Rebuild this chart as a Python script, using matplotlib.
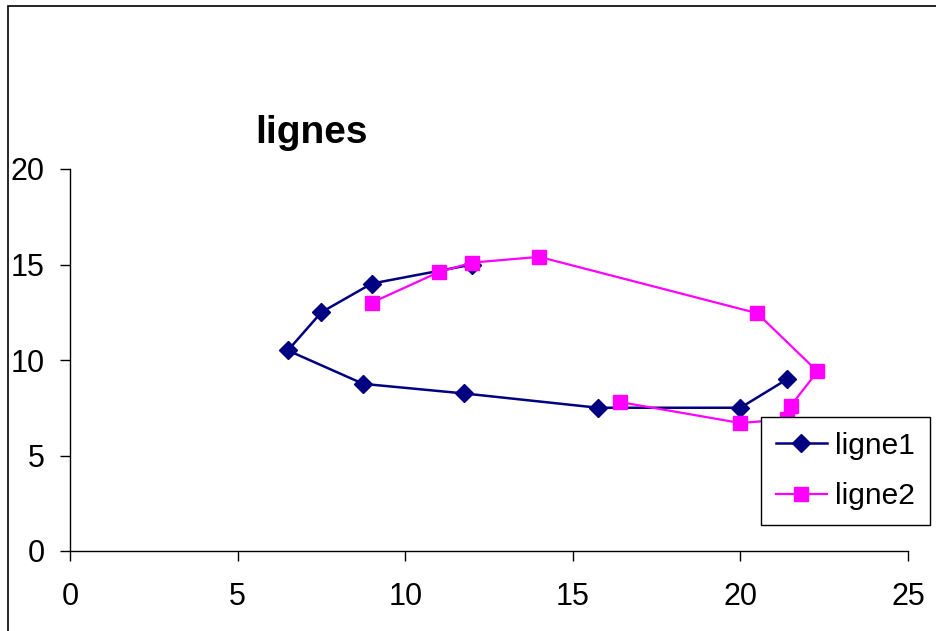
import matplotlib
matplotlib.use("Agg")
import matplotlib.pyplot as plt
from matplotlib.patches import Rectangle

plt.rcParams['font.family'] = ['Liberation Sans', 'DejaVu Sans']

# data
ligne1_x = [12, 9, 7.5, 6.5, 8.75, 11.75, 15.75, 20, 21.4]
ligne1_y = [15, 14, 12.5, 10.5, 8.75, 8.25, 7.5, 7.5, 9]
ligne2_x = [9, 11, 12, 14, 20.5, 22.3, 21.5, 21.4, 20, 16.4]
ligne2_y = [13, 14.6, 15.1, 15.4, 12.45, 9.4, 7.6, 6.9, 6.7, 7.8]
x_ticks = [0, 5, 10, 15, 20, 25]
y_ticks = [0, 5, 10, 15, 20]

fig = plt.figure(figsize=(9.37, 6.31), dpi=100)
ax = fig.add_axes([70 / 937, 1 - 551 / 631, (908 - 70) / 937, (551 - 169) / 631])

ax.plot(ligne1_x, ligne1_y, color='#000080', lw=1.8, marker='D', ms=9.5,
        label='ligne1', clip_on=False)
ax.plot(ligne2_x, ligne2_y, color='#FF00FF', lw=1.6, marker='s', ms=10.5,
        label='ligne2', clip_on=False)

ax.set_xlim(0, 25)
ax.set_ylim(0, 20)
ax.set_xticks(x_ticks)
ax.set_yticks(y_ticks)
for s in ['top', 'right']:
    ax.spines[s].set_visible(False)
for s in ['left', 'bottom']:
    ax.spines[s].set_color('black')
    ax.spines[s].set_linewidth(1)
ax.tick_params(axis='both', length=7, width=1, labelsize=22)
ax.tick_params(axis='x', pad=15)
ax.tick_params(axis='y', pad=11)

leg = ax.legend(loc='upper left', bbox_to_anchor=(761 / 937, 1 - 417 / 631),
                bbox_transform=fig.transFigure, fontsize=21.5, frameon=True,
                fancybox=False, shadow=False, framealpha=1, edgecolor='black',
                handlelength=1.7, handletextpad=0.27, borderpad=0.5,
                labelspacing=0.75, borderaxespad=0)
leg.get_frame().set_linewidth(1)
leg.set_zorder(5)

fig.text(312 / 937, 1 - 143 / 631, 'lignes', ha='center', va='baseline',
         fontsize=28, fontweight='bold')

# outer chart border, cut off at the right and bottom
fig.patches.append(Rectangle((8 / 937, -0.1), 1.2, 1 - 6 / 631 + 0.1,
                             transform=fig.transFigure, fill=False,
                             edgecolor='black', lw=1.2))

fig.savefig('out.png', dpi=100)
